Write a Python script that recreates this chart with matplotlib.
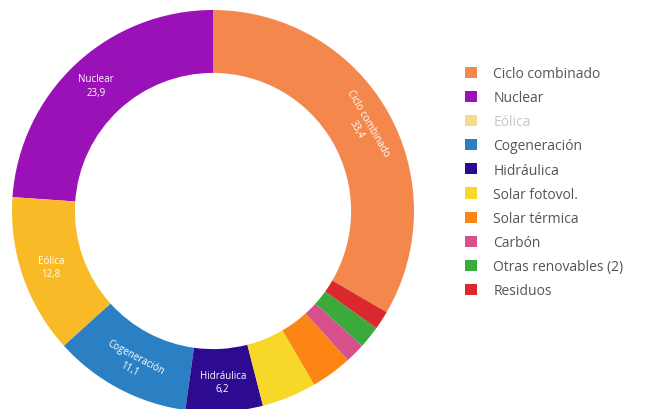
import numpy as np
import matplotlib.pyplot as plt
from matplotlib.patches import Patch

# generation mix (%), legend order
sources = ['Ciclo combinado', 'Nuclear', 'Eólica', 'Cogeneración', 'Hidráulica',
           'Solar fotovol.', 'Solar térmica', 'Carbón', 'Otras renovables (2)', 'Residuos']
shares = [33.4, 23.9, 12.8, 11.1, 6.2, 4.4, 3.3, 1.6, 1.8, 1.5]
colors = ['#f4874b', '#9b11b8', '#f8bb27', '#2b80c3', '#2c0b91',
          '#f7d829', '#fc8413', '#d8508b', '#3ba93b', '#d9282e']
# labels written on the ring: name, value text, text orientation
ring_labels = {
    'Ciclo combinado': ('33,4', 'tangent'),
    'Nuclear': ('23,9', 'horizontal'),
    'Eólica': ('12,8', 'horizontal'),
    'Cogeneración': ('11,1', 'tangent'),
    'Hidráulica': ('6,2', 'horizontal'),
}

plt.rcParams['font.family'] = ['Open Sans', 'DejaVu Sans']

W, H = 647, 410
fig = plt.figure(figsize=(W / 100, H / 100), dpi=100)
fig.patch.set_facecolor('white')

# ring centre at (213, 212) px from top-left, outer radius 201 px
cx, cy, r = 213, 212, 201
ax = fig.add_axes([(cx - r) / W, (H - cy - r) / H, 2 * r / W, 2 * r / H])

hole = 0.687
# first slice runs clockwise from 12 o'clock, the rest counter-clockwise
start = 90 - 360 * shares[0] / sum(shares)
wedges, _ = ax.pie(shares, colors=colors, startangle=start, counterclock=True,
                   radius=1.0, wedgeprops=dict(width=1 - hole, linewidth=0))
ax.set_xlim(-1, 1)
ax.set_ylim(-1, 1)
ax.set_aspect('equal')
ax.axis('off')

mid_r = (1 + hole) / 2 + 0.01
for w, name in zip(wedges, sources):
    if name not in ring_labels:
        continue
    value, orient = ring_labels[name]
    ang = (w.theta1 + w.theta2) / 2
    x = mid_r * np.cos(np.radians(ang))
    y = mid_r * np.sin(np.radians(ang))
    rot = 0
    if orient == 'tangent':
        rot = ang - 90 if np.sin(np.radians(ang)) >= 0 else ang - 270
    ax.text(x, y, f'{name}\n{value}', color='white', fontsize=7,
            ha='center', va='center', rotation=rot, rotation_mode='anchor',
            linespacing=1.3)

handles = [Patch(facecolor=c, edgecolor='none') for c in colors]
handles[2] = Patch(facecolor='#f7da91', edgecolor='none')
leg = fig.legend(handles, sources, loc='upper left',
                 bbox_to_anchor=(458 / W, 1 - 60 / H), frameon=False,
                 fontsize=10, handlelength=0.85, handleheight=0.85,
                 handletextpad=1.2, labelspacing=0.66, borderpad=0)
for t, name in zip(leg.get_texts(), sources):
    t.set_color('#c8c8c8' if name == 'Eólica' else '#555555')

fig.savefig('out.png', dpi=100)
